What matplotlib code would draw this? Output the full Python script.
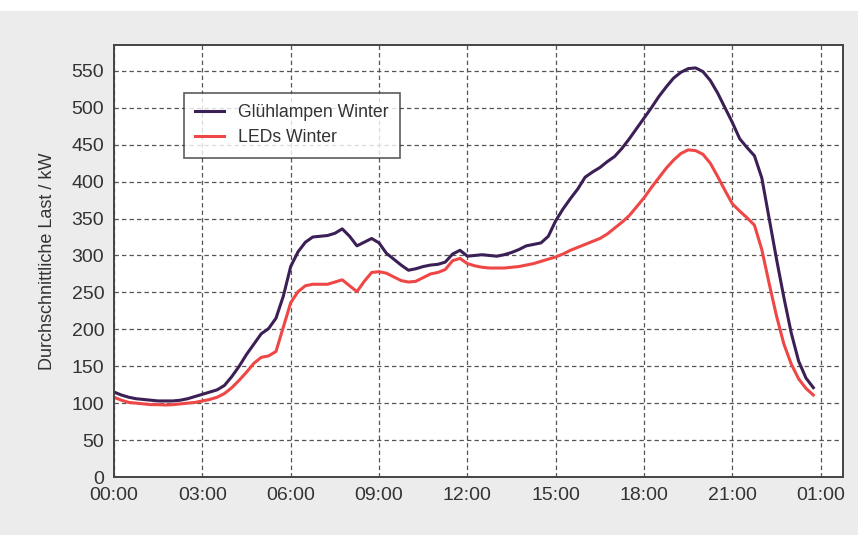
import matplotlib.pyplot as plt
from matplotlib.patches import Rectangle

plt.rcParams['font.family'] = ['Liberation Sans', 'DejaVu Sans']

# quarter-hour time stamps (hours after midnight)
hours = [q / 4 for q in range(96)]

gluehlampen = [
    115, 111, 108, 106, 105, 104, 103, 103, 103, 104, 106, 109,
    112, 115, 118, 124, 136, 150, 166, 180, 194, 201, 215, 245,
    285, 305, 318, 325, 326, 327, 330, 336, 326, 313, 318, 323,
    317, 303, 295, 287, 280, 282, 285, 287, 288, 291, 302, 307,
    299, 300, 301, 300, 299, 301, 304, 308, 313, 315, 317, 326,
    347, 363, 377, 390, 406, 413, 419, 427, 434, 445, 458, 472,
    486, 500, 515, 528, 540, 548, 553, 554, 549, 537, 520, 500,
    480, 458, 446, 435, 405, 350, 295, 243, 195, 157, 134, 121,
]

leds = [
    108, 104, 101, 100, 99, 98, 98, 97.5, 98, 99, 100, 101,
    103, 105, 108, 113, 121, 131, 142, 154, 162, 164, 170, 203,
    236, 251, 259, 261, 261, 261, 264, 267, 259, 251, 265, 277,
    278, 276, 271, 266, 264, 265, 270, 275, 277, 281, 293, 296,
    289, 286, 284, 283, 283, 283, 284, 285, 287, 289, 292, 295,
    298, 302, 307, 311, 315, 319, 323, 329, 337, 345, 354, 366,
    378, 392, 405, 418, 429, 438, 443, 442, 437, 425, 407, 388,
    370, 360, 351, 341, 308, 262, 218, 180, 153, 133, 120, 111,
]

x_ticks = [0, 3, 6, 9, 12, 15, 18, 21, 24]
x_labels = ['00:00', '03:00', '06:00', '09:00', '12:00', '15:00', '18:00', '21:00', '01:00']
y_ticks = list(range(0, 551, 50))

fig = plt.figure(figsize=(8.58, 5.35), dpi=100, facecolor='#ececec')
fig.patches.append(Rectangle((0, 0.98), 1, 0.02, transform=fig.transFigure,
                             facecolor='white', edgecolor='none', zorder=-1))
ax = fig.add_axes([0.1329, 0.1084, 0.8497, 0.8075])
ax.set_facecolor('white')

ax.plot(hours, gluehlampen, color='#3b1f55', lw=2.2, label='Glühlampen Winter')
ax.plot(hours, leds, color='#ef4646', lw=2.2, label='LEDs Winter')

ax.set_xlim(0, 24.76)
ax.set_ylim(0, 585)
ax.set_xticks(x_ticks)
ax.set_xticklabels(x_labels)
ax.set_yticks(y_ticks)
ax.tick_params(length=0, labelsize=14, colors='#333333', pad=7)
ax.grid(True, ls=(0, (3.5, 2.5)), color='#555555', lw=0.9)
for s in ax.spines.values():
    s.set_color('#444444')
    s.set_linewidth(1.4)

ax.set_ylabel('Durchschnittliche Last / kW', fontsize=13, color='#333333', labelpad=11)

leg = ax.legend(loc='upper left', bbox_to_anchor=(0.096, 0.889), borderaxespad=0,
                fontsize=12.7, frameon=True, fancybox=False, handlelength=1.6,
                borderpad=0.65, labelspacing=0.45)
leg.get_frame().set_edgecolor('#333333')
leg.get_frame().set_linewidth(1.2)
for t in leg.get_texts():
    t.set_color('#333333')

fig.savefig('out.png', dpi=100, facecolor=fig.get_facecolor())
